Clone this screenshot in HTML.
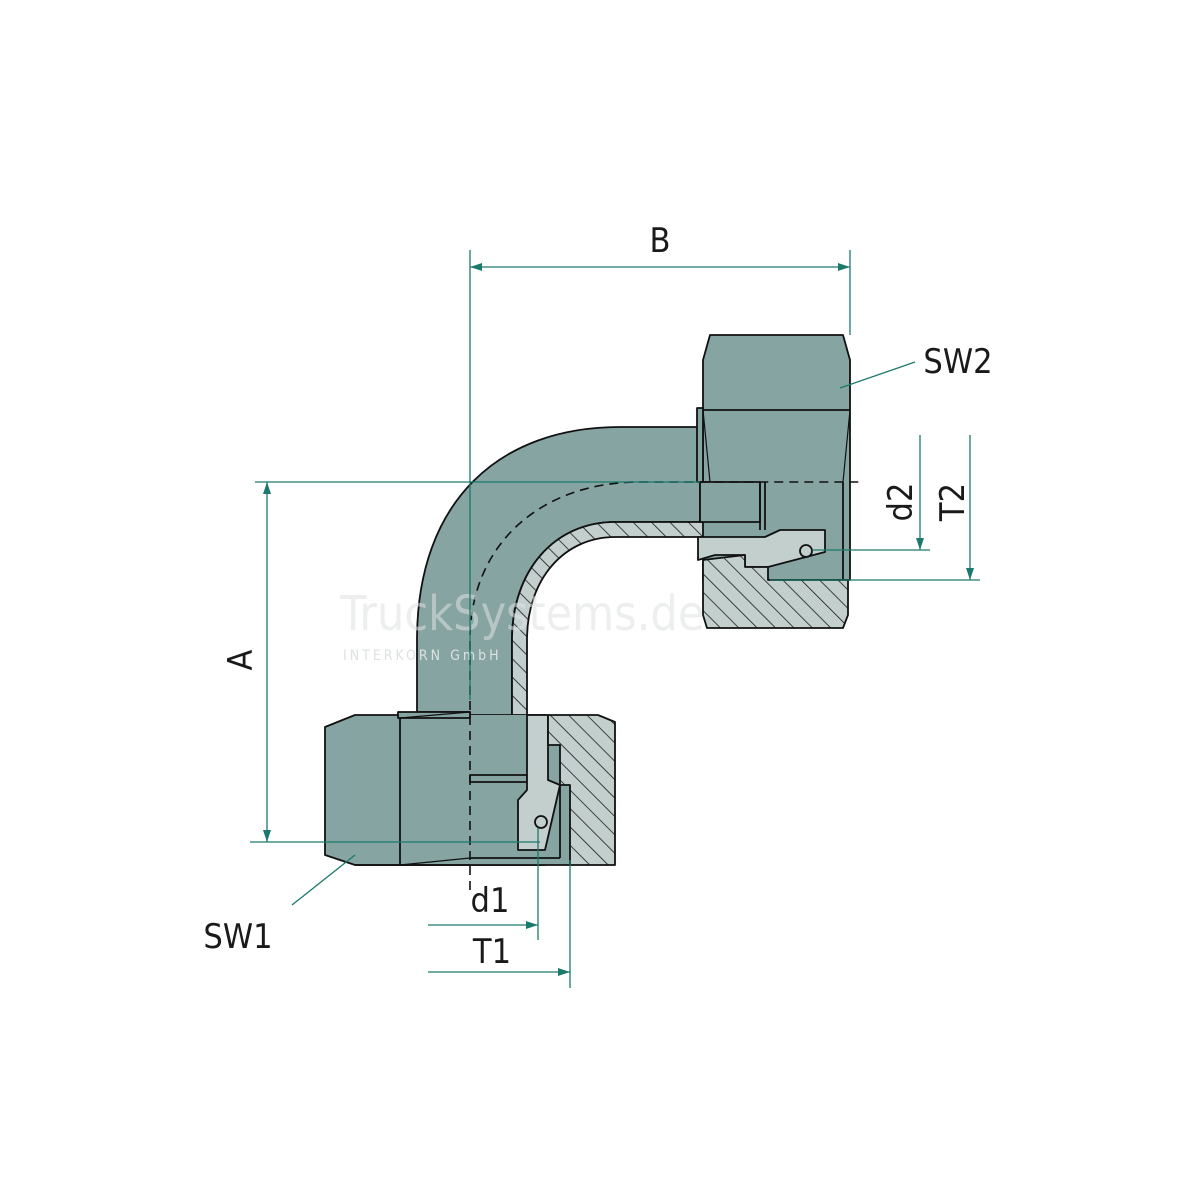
<!DOCTYPE html>
<html><head><style>
html,body{margin:0;padding:0;background:#fff;}
svg{display:block;}
text{font-family:"DejaVu Sans Condensed","Liberation Sans",sans-serif;fill:#1a1a1a;}
</style></head><body>
<svg width="1200" height="1200" viewBox="0 0 1200 1200" xmlns="http://www.w3.org/2000/svg">
<defs>
<pattern id="h" patternUnits="userSpaceOnUse" width="13" height="13" patternTransform="rotate(-45)">
<rect width="13" height="13" fill="#c3cfcd"/>
<line x1="0" y1="0" x2="0" y2="13" stroke="#111" stroke-width="1.5"/>
</pattern>
</defs>
<g stroke="#111" stroke-width="1.8" stroke-linejoin="round">
<!-- pipe bend (teal) -->
<path d="M417,712 L417,640 C417,500 500,427 620,427 L700,427 L700,522 L615,522 C555,522 512,570 512,640 L512,780 L470,780 L470,712 Z" fill="#86a4a2"/>
<!-- hatched wall -->
<path d="M512,780 L512,640 C512,570 555,522 615,522 L760,522 L760,537 L615,537 C565,537 527,578 527,640 L527,780 Z" fill="url(#h)"/>
<!-- top nut -->
<path d="M710,335 L843,335 L850,360 L850,580 L703,580 L703,360 Z" fill="#86a4a2"/>
<line x1="703" y1="410" x2="850" y2="410"/>
<path d="M697,408 L703,408 L703,482 L697,482 Z" fill="#86a4a2"/>
<line x1="703" y1="410" x2="710" y2="482" stroke-width="1.2"/>
<line x1="850" y1="410" x2="843" y2="482" stroke-width="1.2"/>
<path d="M700,482 L760,482 L760,522 L700,522 Z" fill="#86a4a2"/>
<line x1="760" y1="482" x2="760" y2="530"/>
<line x1="765" y1="482" x2="765" y2="530"/>
<line x1="843" y1="482" x2="843" y2="580"/>
<!-- ring -->
<path d="M698,537 L765,537 L780,530 L825,530 L825,552 L768,567 L745,567 L745,555 L715,555 L698,560 Z" fill="#c3cfcd"/>
<circle cx="806" cy="551" r="6" fill="#c3cfcd"/>
<!-- hatched nut bottom -->
<path d="M703,560 L745,555 L745,567 L768,567 L768,580 L848,580 L848,615 L843,628 L707,628 L703,615 Z" fill="url(#h)"/>
<!-- bottom nut -->
<path d="M325,727 L355,715 L545,715 L545,865 L355,865 L325,855 Z" fill="#86a4a2"/>
<rect x="470" y="715" width="100" height="150" fill="#86a4a2" stroke="none"/>
<line x1="400" y1="715" x2="400" y2="865"/>
<path d="M398,712 L470,712 L470,718 L398,718 Z" fill="#86a4a2"/>
<line x1="400" y1="718" x2="470" y2="712" stroke-width="1.2"/>
<line x1="400" y1="865" x2="470" y2="858" stroke-width="1.2"/>
<line x1="355" y1="865" x2="570" y2="865"/>
<path d="M470,775 L527,775 L527,782 L470,782 Z" fill="#86a4a2"/>
<line x1="470" y1="858" x2="560" y2="858"/>
<path d="M527,715 L548,715 L548,780 L560,785 L545,850 L518,850 L518,800 L527,790 Z" fill="#c3cfcd"/>
<circle cx="541" cy="822" r="6" fill="#c3cfcd"/>
<path d="M548,715 L598,715 L615,722 L615,865 L570,865 L570,785 L560,785 L560,745 L548,745 Z" fill="url(#h)"/>
<line x1="560" y1="785" x2="560" y2="858"/>
</g>
<!-- dashed centerline -->
<path d="M470,890 L470,640 C470,545 540,482 640,482 L862,482" fill="none" stroke="#111" stroke-width="1.6" stroke-dasharray="9,6"/>
<!-- watermark -->
<text x="340" y="630" font-size="48" style="fill:#dfe3e3;opacity:0.55">TruckSystems.de</text>
<text x="343" y="660" font-size="14" style="fill:#dde1e1;letter-spacing:3px">INTERKORN GmbH</text>
<!-- dimensions -->
<g stroke="#1b7a6c" stroke-width="1.3" fill="none">
<line x1="470" y1="250" x2="470" y2="700"/>
<line x1="850" y1="250" x2="850" y2="335"/>
<line x1="470" y1="267" x2="850" y2="267"/>
<line x1="255" y1="482" x2="700" y2="482"/>
<line x1="250" y1="842" x2="540" y2="842"/>
<line x1="267" y1="482" x2="267" y2="842"/>
<line x1="840" y1="388" x2="915" y2="362"/>
<line x1="355" y1="855" x2="292" y2="905"/>
<line x1="812" y1="550" x2="930" y2="550"/>
<line x1="770" y1="580" x2="980" y2="580"/>
<line x1="920" y1="435" x2="920" y2="550"/>
<line x1="970" y1="435" x2="970" y2="580"/>
<line x1="538" y1="828" x2="538" y2="940"/>
<line x1="570" y1="860" x2="570" y2="988"/>
<line x1="428" y1="925" x2="538" y2="925"/>
<line x1="428" y1="972" x2="570" y2="972"/>
</g>
<g fill="#1b7a6c">
<path d="M470,267 l12,-4 v8 z"/><path d="M850,267 l-12,-4 v8 z"/>
<path d="M267,482 l-4,12 h8 z"/><path d="M267,842 l-4,-12 h8 z"/>
<path d="M920,550 l-4,-12 h8 z"/><path d="M970,580 l-4,-12 h8 z"/>
<path d="M538,925 l-12,-4 v8 z"/><path d="M570,972 l-12,-4 v8 z"/>
</g>
<text x="660" y="252" font-size="34" text-anchor="middle">B</text>
<text x="958" y="373" font-size="34" text-anchor="middle">SW2</text>
<text x="238" y="948" font-size="34" text-anchor="middle">SW1</text>
<text x="490" y="912" font-size="34" text-anchor="middle">d1</text>
<text x="492" y="963" font-size="34" text-anchor="middle">T1</text>
<text transform="translate(252,660) rotate(-90)" font-size="34" text-anchor="middle">A</text>
<text transform="translate(912,502) rotate(-90)" font-size="34" text-anchor="middle">d2</text>
<text transform="translate(964,502) rotate(-90)" font-size="34" text-anchor="middle">T2</text>
</svg>
</body></html>
